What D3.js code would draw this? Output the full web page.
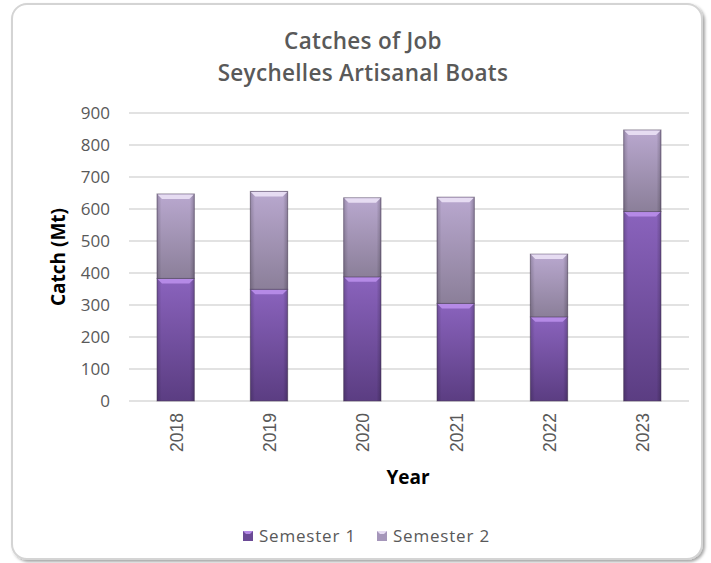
<!DOCTYPE html>
<html>
<head>
<meta charset="utf-8">
<script src="https://cdn.jsdelivr.net/npm/d3@7"></script>
<style>
  body { margin: 0; background: #fff; }
  svg { display: block; }
</style>
</head>
<body>
<div id="chart"></div>
<script>
// chart data
var years = ["2018", "2019", "2020", "2021", "2022", "2023"];
var semester1 = [383, 349, 388, 305, 263, 592];
var semester2 = [264, 306, 247, 332, 196, 255];
var seriesNames = ["Semester 1", "Semester 2"];
var yTicks = [0, 100, 200, 300, 400, 500, 600, 700, 800, 900];

var width = 711, height = 563;
var margin = {top: 113, right: 22, bottom: 162, left: 129};

var svg = d3.select("#chart").append("svg")
    .attr("width", width)
    .attr("height", height);

var defs = svg.append("defs");

// drop shadow for the frame
var shadow = defs.append("filter").attr("id", "frameShadow")
    .attr("x", "-5%").attr("y", "-5%").attr("width", "110%").attr("height", "110%");
shadow.append("feDropShadow")
    .attr("dx", 2).attr("dy", 2).attr("stdDeviation", 1.5)
    .attr("flood-color", "#000").attr("flood-opacity", 0.35);

// bar gradients
function addGradient(id, stops) {
  var g = defs.append("linearGradient").attr("id", id)
      .attr("x1", 0).attr("y1", 0).attr("x2", 0).attr("y2", 1);
  stops.forEach(function(s) {
    g.append("stop").attr("offset", s[0]).attr("stop-color", s[1]);
  });
}
addGradient("grad1", [["0%", "#8a63bd"], ["100%", "#5b3d82"]]);
addGradient("grad2", [["0%", "#b9a8cf"], ["100%", "#8b7f99"]]);

// side shading, gives the bars their rounded look
var side = defs.append("linearGradient").attr("id", "sideShade")
    .attr("x1", 0).attr("y1", 0).attr("x2", 1).attr("y2", 0);
side.append("stop").attr("offset", "0%").attr("stop-color", "#000").attr("stop-opacity", 0.18);
side.append("stop").attr("offset", "12%").attr("stop-color", "#000").attr("stop-opacity", 0);
side.append("stop").attr("offset", "88%").attr("stop-color", "#000").attr("stop-opacity", 0);
side.append("stop").attr("offset", "100%").attr("stop-color", "#000").attr("stop-opacity", 0.22);

var colors = {
  "Semester 1": {fill: "url(#grad1)", bevel: "#b58ae6", legend: "#6b4a96"},
  "Semester 2": {fill: "url(#grad2)", bevel: "#e6dcf2", legend: "#a596ba"}
};

// frame
svg.append("rect")
    .attr("x", 12).attr("y", 4)
    .attr("width", 690).attr("height", 555)
    .attr("rx", 15).attr("ry", 15)
    .attr("fill", "#fff")
    .attr("stroke", "#d4d4d4")
    .attr("stroke-width", 2)
    .attr("filter", "url(#frameShadow)");

// title
var title = svg.append("text")
    .attr("text-anchor", "middle")
    .attr("font-family", "'Open Sans', sans-serif")
    .attr("font-weight", 600)
    .attr("font-size", 22.5)
    .attr("letter-spacing", 0.3)
    .attr("fill", "#595959");
title.append("tspan").attr("x", 363).attr("y", 49).text("Catches of Job");
title.append("tspan").attr("x", 363).attr("y", 81).text("Seychelles Artisanal Boats");

var x = d3.scaleBand()
    .domain(years)
    .range([margin.left, width - margin.right])
    .paddingInner(0.6)
    .paddingOuter(0.3);

var y = d3.scaleLinear()
    .domain([0, 900])
    .range([height - margin.bottom, margin.top]);

// gridlines
svg.append("g")
  .selectAll("line")
  .data(yTicks)
  .enter().append("line")
    .attr("x1", margin.left)
    .attr("x2", width - margin.right)
    .attr("y1", function(d) { return y(d); })
    .attr("y2", function(d) { return y(d); })
    .attr("stroke", "#d9d9d9")
    .attr("stroke-width", 1.5);

// y axis labels
var yAxis = svg.append("g")
    .attr("transform", "translate(" + (margin.left - 9) + ",0)")
    .call(d3.axisLeft(y).tickValues(yTicks).tickSize(0).tickPadding(10));
yAxis.select(".domain").remove();
yAxis.selectAll("text")
    .attr("font-family", "'Open Sans', sans-serif")
    .attr("font-size", 17)
    .attr("fill", "#595959");

// x axis labels, rotated
var xAxis = svg.append("g")
    .attr("transform", "translate(0," + y(0) + ")")
    .call(d3.axisBottom(x).tickSize(0));
xAxis.select(".domain").remove();
xAxis.selectAll("text")
    .attr("font-family", "'Liberation Sans', Arial, sans-serif")
    .attr("font-size", 17.5)
    .attr("fill", "#595959")
    .attr("text-anchor", "end")
    .attr("transform", "rotate(-90)")
    .attr("x", -12)
    .attr("y", 1)
    .attr("dy", "0.35em");

// axis titles
svg.append("text")
    .attr("transform", "translate(65," + (y(450)) + ") rotate(-90)")
    .attr("text-anchor", "middle")
    .attr("font-family", "'Open Sans', sans-serif")
    .attr("font-weight", 700)
    .attr("font-size", 19)
    .attr("fill", "#000")
    .text("Catch (Mt)");

svg.append("text")
    .attr("x", 408)
    .attr("y", 484)
    .attr("text-anchor", "middle")
    .attr("font-family", "'Open Sans', sans-serif")
    .attr("font-weight", 700)
    .attr("font-size", 19)
    .attr("fill", "#000")
    .text("Year");

// stacked bars
var rows = years.map(function(yr, i) {
  return {year: yr, "Semester 1": semester1[i], "Semester 2": semester2[i]};
});
var stack = d3.stack().keys(seriesNames)(rows);

var bw = x.bandwidth();
var bevel = 5;

var layers = svg.append("g").selectAll("g")
    .data(stack)
    .enter().append("g");

layers.each(function(layer) {
  var g = d3.select(this);
  var c = colors[layer.key];
  var seg = g.selectAll("g")
      .data(layer)
      .enter().append("g")
      .attr("transform", function(d) { return "translate(" + x(d.data.year) + "," + y(d[1]) + ")"; });

  seg.append("rect")
      .attr("width", bw)
      .attr("height", function(d) { return y(d[0]) - y(d[1]); })
      .attr("fill", c.fill)
      .attr("stroke", "#4a3d5a")
      .attr("stroke-opacity", 0.55)
      .attr("stroke-width", 1);

  seg.append("rect")
      .attr("width", bw)
      .attr("height", function(d) { return y(d[0]) - y(d[1]); })
      .attr("fill", "url(#sideShade)");

  // top bevel
  seg.append("polygon")
      .attr("points", "0.5,0.5 " + (bw - 0.5) + ",0.5 " + (bw - bevel) + "," + bevel + " " + bevel + "," + bevel)
      .attr("fill", c.bevel);
});

// legend
var legend = svg.append("g")
    .attr("font-family", "'Open Sans', sans-serif")
    .attr("font-size", 17)
    .attr("letter-spacing", 0.8)
    .attr("fill", "#595959");

var legendX = [243, 377];
seriesNames.forEach(function(name, i) {
  var c = colors[name];
  var item = legend.append("g").attr("transform", "translate(" + legendX[i] + ",531)");
  item.append("rect")
      .attr("width", 10).attr("height", 10)
      .attr("fill", c.legend);
  item.append("polygon")
      .attr("points", "0,0 10,0 7,3 3,3")
      .attr("fill", c.bevel);
  item.append("text")
      .attr("x", 16).attr("y", 5)
      .attr("dy", "0.35em")
      .text(name);
});
</script>
</body>
</html>
